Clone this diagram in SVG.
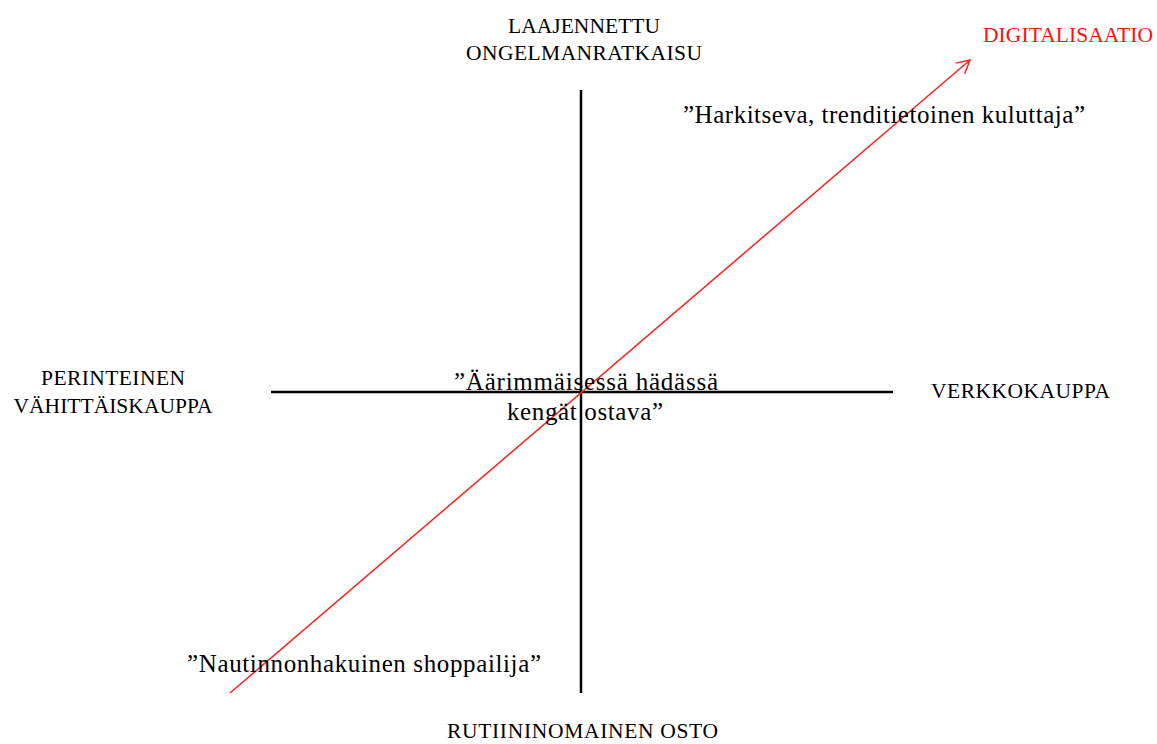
<svg xmlns="http://www.w3.org/2000/svg" width="1157" height="744" viewBox="0 0 1157 744">
<style>
text{font-family:"Liberation Serif","Times New Roman",serif;fill:#000}
.lbl{font-size:21.5px}
.q{font-size:25px}
.axis{stroke:#000;stroke-width:2.5;fill:none}
.red{stroke:#ff2020;stroke-width:1.5;fill:none}
</style>
<defs>
<marker id="arr" markerWidth="16" markerHeight="16" refX="14" refY="8" orient="auto" markerUnits="userSpaceOnUse">
<path d="M1,1 L14,8 L1,15" fill="none" stroke="#ff2020" stroke-width="1.5"/>
</marker>
</defs>
<rect width="1157" height="744" fill="#fff"/>
<g id="connectors">
<line class="axis" x1="581" y1="90" x2="581" y2="693"/>
<line class="axis" x1="271" y1="392" x2="893" y2="392"/>
<line class="red" x1="230" y1="693" x2="970" y2="60" marker-end="url(#arr)"/>
</g>
<g id="top">
<text class="lbl" x="584" y="33" text-anchor="middle" textLength="152">LAAJENNETTU</text>
<text class="lbl" x="584" y="60" text-anchor="middle" textLength="236">ONGELMANRATKAISU</text>
</g>
<g id="digitalisaatio">
<text class="lbl" x="983" y="42" textLength="170" style="fill:#ff1010">DIGITALISAATIO</text>
</g>
<g id="harkitseva">
<text class="q" x="683" y="123" textLength="402">”Harkitseva, trenditietoinen kuluttaja”</text>
</g>
<g id="left">
<text class="lbl" x="113" y="385" text-anchor="middle" textLength="144">PERINTEINEN</text>
<text class="lbl" x="113" y="413" text-anchor="middle" textLength="199">VÄHITTÄISKAUPPA</text>
</g>
<g id="center">
<text class="q" x="454" y="390" textLength="264">”Äärimmäisessä hädässä</text>
<text class="q" x="507" y="420" textLength="156">kengät ostava”</text>
</g>
<g id="right">
<text class="lbl" x="931" y="398" textLength="179">VERKKOKAUPPA</text>
</g>
<g id="nautinnon">
<text class="q" x="187" y="672" textLength="354">”Nautinnonhakuinen shoppailija”</text>
</g>
<g id="bottom">
<text class="lbl" x="447" y="738" textLength="271">RUTIININOMAINEN OSTO</text>
</g>
</svg>
